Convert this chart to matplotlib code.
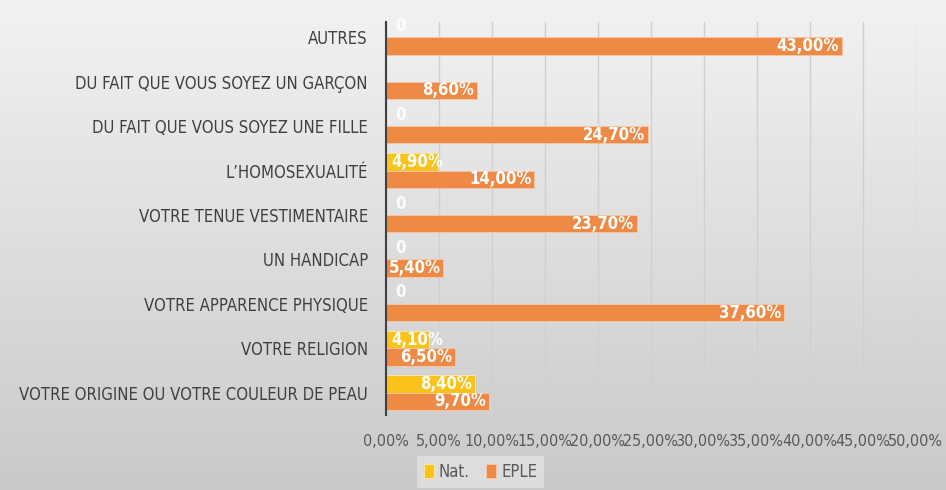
import numpy as np
from matplotlib import pyplot as plt
from matplotlib import font_manager

cats = ["VOTRE ORIGINE OU VOTRE COULEUR DE PEAU", "VOTRE RELIGION",
        "VOTRE APPARENCE PHYSIQUE", "UN HANDICAP", "VOTRE TENUE VESTIMENTAIRE",
        "L\u2019HOMOSEXUALITÉ", "DU FAIT QUE VOUS SOYEZ UNE FILLE",
        "DU FAIT QUE VOUS SOYEZ UN GARÇON", "AUTRES"]
nat = [8.4, 4.1, 0, 0, 0, 4.9, 0, None, 0]
eple = [9.7, 6.5, 37.6, 5.4, 23.7, 14.0, 24.7, 8.6, 43.0]
xticks = [0, 5, 10, 15, 20, 25, 30, 35, 40, 45, 50]

names = {f.name for f in font_manager.fontManager.ttflist}
fam = "Liberation Sans Narrow" if "Liberation Sans Narrow" in names else "DejaVu Sans"
plt.rcParams['font.family'] = [fam, 'DejaVu Sans']
if fam == "DejaVu Sans":
    plt.rcParams['font.stretch'] = 'condensed'

fig = plt.figure(figsize=(9.46, 4.9), dpi=100)

# background gradient
bg = fig.add_axes([0, 0, 1, 1], zorder=-10)
g = np.linspace(0, 1, 256).reshape(-1, 1)
grad = np.repeat(g, 2, axis=1)
top = np.array([0.95, 0.95, 0.95])
bot = np.array([0.79, 0.79, 0.79])
img = top + (bot - top) * grad[..., None]
bg.imshow(img, aspect='auto', extent=[0, 1, 0, 1], origin='upper')
bg.axis('off')

ax = fig.add_axes([0.408, 0.153, 0.56, 0.802])
ax.patch.set_alpha(0)

y = np.arange(len(cats))
h = 0.39
yellow = "#FBC21A"
orange = "#EE8A45"
nat_vals = [v if v is not None else 0 for v in nat]
ax.barh(y + h / 2, nat_vals, height=h, color=yellow, edgecolor="#FDE9B0", linewidth=0.6, label="Nat.", zorder=3)
ax.barh(y - h / 2, eple, height=h, color=orange, edgecolor="#F7C9A8", linewidth=0.6, label="EPLE", zorder=3)

def lab(v):
    return ("%.2f%%" % v).replace(".", ",")

for i in range(len(cats)):
    for v, yy in ((nat[i], y[i] + h / 2), (eple[i], y[i] - h / 2)):
        if v is None:
            continue
        if v >= 5:
            ax.annotate(lab(v), (v, yy), xytext=(-2, 0), textcoords='offset points',
                        ha='right', va='center', color='white', fontsize=12,
                        fontweight='bold', zorder=5)
        elif v > 0:
            ax.annotate(lab(v), (0, yy), xytext=(4, 0), textcoords='offset points',
                        ha='left', va='center', color='white', fontsize=12,
                        fontweight='bold', zorder=5)
        else:
            ax.annotate("0", (0, yy), xytext=(7, 2), textcoords='offset points',
                        ha='left', va='center', color='white', fontsize=12,
                        fontweight='bold', alpha=0.9, zorder=5)

ax.set_xlim(0, 50)
ax.set_ylim(-0.5, 8.34)
ax.set_xticks(xticks)
ax.set_xticklabels([lab(t) for t in xticks], fontsize=11.5, color="#595959")
ax.set_yticks(y)
ax.set_yticklabels(cats, fontsize=12, color="#404040")
ax.tick_params(axis='both', length=0)
ax.tick_params(axis='x', pad=14)
ax.tick_params(axis='y', pad=13)
ax.grid(axis='x', color="#D0D0D0", linewidth=1, zorder=0)
for s in ['top', 'right', 'bottom']:
    ax.spines[s].set_visible(False)
ax.spines['left'].set_color("#404040")
ax.spines['left'].set_linewidth(1.5)
ax.spines['left'].set_zorder(4)

handles, labels = ax.get_legend_handles_labels()
leg = fig.legend(handles, labels, loc='lower center', bbox_to_anchor=(0.508, -0.012),
                 ncol=2, frameon=True, fontsize=12, handlelength=0.6, handleheight=0.9,
                 handletextpad=0.3, columnspacing=1.0, fancybox=False)
leg.get_frame().set_facecolor("#E2E2E2")
leg.get_frame().set_edgecolor("none")
for t in leg.get_texts():
    t.set_color("#595959")

fig.savefig("out.png", dpi=100)
